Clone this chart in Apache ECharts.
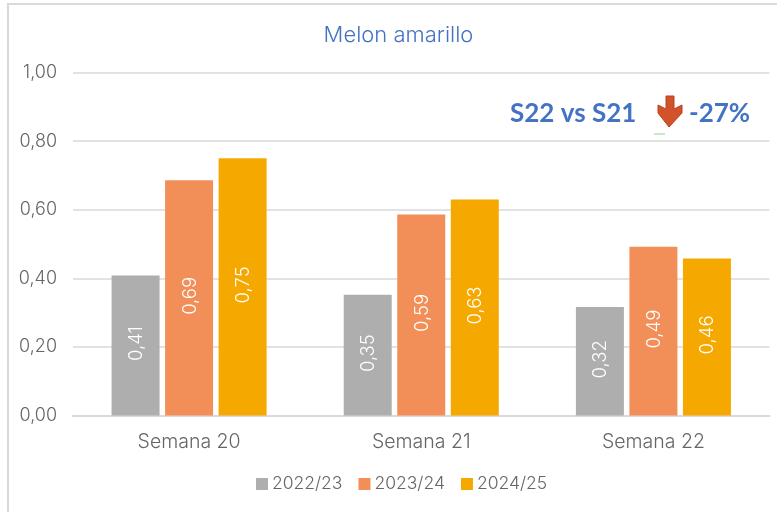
<!DOCTYPE html>
<html>
<head>
<meta charset="utf-8">
<style>html,body{margin:0;padding:0;background:#fff}#c{width:777px;height:512px}</style>
<script src="https://cdn.jsdelivr.net/npm/echarts@6/dist/echarts.min.js"></script>
</head>
<body>
<div id="c"></div>
<script>
const categories = ['Semana 20', 'Semana 21', 'Semana 22'];
const s2223 = [0.408, 0.352, 0.316];
const s2324 = [0.686, 0.586, 0.492];
const s2425 = [0.75, 0.63, 0.458];
const seriesNames = ['2022/23', '2023/24', '2024/25'];
const colors = ['#AEAEAE', '#F28E58', '#F5A800'];
const font = 'Inter';
const weight = 300;
const fmt = v => v.toFixed(2).replace('.', ',');
const chart = echarts.init(document.getElementById('c'), null, {renderer: 'canvas'});
const mk = (name, data, color) => ({
  name, data, type: 'bar', barWidth: 48, barGap: '11.5%', itemStyle: {color},
  label: {show: true, position: 'inside', rotate: 90, color: '#fff', fontFamily: font, fontWeight: weight, fontSize: 18.5,
    offset: [2, 1], formatter: p => fmt(p.value)}
});
chart.setOption({
  animation: false,
  backgroundColor: '#fff',
  title: {text: 'Melon amarillo', left: 393.5, top: 19, textAlign: 'center',
    textStyle: {color: '#4472C4', fontFamily: font, fontWeight: weight, fontSize: 22}},
  grid: {left: 73, right: 7.5, top: 72.5, bottom: 96.5, containLabel: false},
  legend: {bottom: 14, left: 251, itemWidth: 12, itemHeight: 12, itemGap: 16,
    icon: 'rect', textStyle: {color: '#666', fontFamily: font, fontWeight: weight, fontSize: 17.5, padding: [0, 0, 0, -1]},
    data: seriesNames},
  xAxis: {type: 'category', data: categories,
    axisLine: {lineStyle: {color: '#D9D9D9', width: 2}}, axisTick: {show: false},
    axisLabel: {color: '#666', fontFamily: font, fontWeight: weight, fontSize: 19.5, margin: 17}},
  yAxis: {type: 'value', min: 0, max: 1, interval: 0.2,
    axisLine: {show: false}, axisTick: {show: false},
    splitLine: {lineStyle: {color: '#D9D9D9', width: 1.5}},
    axisLabel: {color: '#666', fontFamily: font, fontWeight: weight, fontSize: 18, margin: 16, formatter: fmt}},
  series: [mk(seriesNames[0], s2223, colors[0]), mk(seriesNames[1], s2324, colors[1]), mk(seriesNames[2], s2425, colors[2])],
  graphic: [
    {type: 'line', silent: true, shape: {x1: 8, y1: 4, x2: 8, y2: 512}, style: {stroke: '#D9D9D9', lineWidth: 2}},
    {type: 'line', silent: true, shape: {x1: 7, y1: 4, x2: 777, y2: 4}, style: {stroke: '#D9D9D9', lineWidth: 2}},
    {type: 'text', style: {text: 'S22 vs S21', x: 510, y: 114, fill: '#4472C4', font: 'bold 26px Lato', textVerticalAlign: 'middle'}},
    {type: 'text', style: {text: '-27%', x: 689, y: 114, fill: '#4472C4', font: 'bold 26px Lato', textVerticalAlign: 'middle'}},
    {type: 'polygon', shape: {points: [[666,96],[674,96],[674,109],[682,105],[682,113],[669,127],[658,113],[658,105],[666,109]]},
      style: {fill: '#D2522A', stroke: '#B8431F', lineWidth: 1}},
    {type: 'line', silent: true, shape: {x1: 654, y1: 134, x2: 665, y2: 134}, style: {stroke: '#8FD08F', lineWidth: 1}}
  ]
});
</script>
</body>
</html>
